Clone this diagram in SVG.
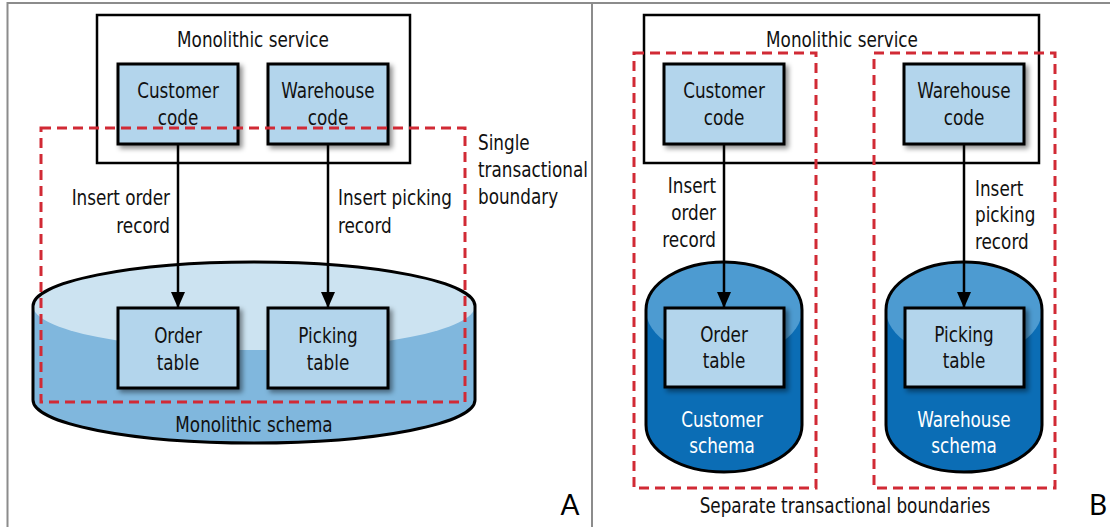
<svg xmlns="http://www.w3.org/2000/svg" width="1110" height="527" viewBox="0 0 1110 527">
  <defs>
    <filter id="shadow" x="-20%" y="-20%" width="150%" height="150%">
      <feDropShadow dx="3" dy="3" stdDeviation="2.5" flood-color="#000" flood-opacity="0.45"/>
    </filter>
    <marker id="arrow" viewBox="0 0 16 14" refX="16" refY="7" markerWidth="16" markerHeight="14" markerUnits="userSpaceOnUse" orient="auto">
      <path d="M0,0 L16,7 L0,14 Z" fill="#000"/>
    </marker>
  </defs>
  <style>
    .frame { fill: none; stroke: #8c8c8c; stroke-width: 2; }
    .service { fill: #fff; stroke: #000; stroke-width: 2.5; }
    .box { fill: #b3d5ec; stroke: #000; stroke-width: 3; filter: url(#shadow); }
    .boundary { fill: none; stroke: #d12a35; stroke-width: 3; stroke-dasharray: 10 6; }
    .edge { stroke: #000; stroke-width: 2.5; fill: none; }
    .outline { fill: none; stroke: #000; stroke-width: 3; }
    text { font-family: "DejaVu Sans Condensed", "DejaVu Sans", sans-serif; font-size: 22px; fill: #111; }
    .c { text-anchor: middle; }
    .r { text-anchor: end; }
    .w { fill: #ffffff; }
    .tag { font-family: Lato, "Liberation Sans", sans-serif; font-size: 28px; fill: #000; text-anchor: middle; }
  </style>

  <!-- panel frame -->
  <path class="frame" d="M7.5,527 V3 H1110 M592,3 V527"/>

  <!-- ===== Panel A: single database ===== -->
  <g id="a-service">
    <rect class="service" x="97" y="15" width="313" height="148"/>
    <text class="c" transform="translate(253,47) scale(0.85,1)">Monolithic service</text>
  </g>

  <g id="a-schema">
    <path d="M33,306 A221,44 0 0 1 475,306 L475,400 A221,43 0 0 1 33,400 Z" fill="#80b7dd"/>
    <ellipse cx="254" cy="306" rx="221" ry="44" fill="#cce3f1"/>
    <path class="outline" d="M33,306 A221,44 0 0 1 475,306 L475,400 A221,43 0 0 1 33,400 Z"/>
    <text class="c" transform="translate(254,432) scale(0.85,1)">Monolithic schema</text>
  </g>

  <g id="a-customer-code">
    <rect class="box" x="118" y="64" width="120" height="80"/>
    <text class="c" transform="translate(178,98) scale(0.85,1)">Customer</text>
    <text class="c" transform="translate(178,125) scale(0.85,1)">code</text>
  </g>
  <g id="a-warehouse-code">
    <rect class="box" x="268" y="64" width="120" height="80"/>
    <text class="c" transform="translate(328,98) scale(0.85,1)">Warehouse</text>
    <text class="c" transform="translate(328,125) scale(0.85,1)">code</text>
  </g>
  <g id="a-order-table">
    <rect class="box" x="118" y="308" width="120" height="80"/>
    <text class="c" transform="translate(178,343) scale(0.85,1)">Order</text>
    <text class="c" transform="translate(178,370) scale(0.85,1)">table</text>
  </g>
  <g id="a-picking-table">
    <rect class="box" x="268" y="308" width="120" height="80"/>
    <text class="c" transform="translate(328,343) scale(0.85,1)">Picking</text>
    <text class="c" transform="translate(328,370) scale(0.85,1)">table</text>
  </g>

  <g id="a-boundary">
    <rect class="boundary" x="41" y="128" width="424" height="274"/>
    <text transform="translate(478,150) scale(0.85,1)">Single</text>
    <text transform="translate(478,177) scale(0.85,1)">transactional</text>
    <text transform="translate(478,204) scale(0.85,1)">boundary</text>
  </g>

  <g id="a-connectors">
    <line class="edge" x1="178" y1="144" x2="178" y2="308" marker-end="url(#arrow)"/>
    <line class="edge" x1="328" y1="144" x2="328" y2="308" marker-end="url(#arrow)"/>
    <text class="r" transform="translate(170,205) scale(0.85,1)">Insert order</text>
    <text class="r" transform="translate(170,233) scale(0.85,1)">record</text>
    <text transform="translate(338,205) scale(0.85,1)">Insert picking</text>
    <text transform="translate(338,233) scale(0.85,1)">record</text>
  </g>

  <text class="tag" x="570" y="515">A</text>

  <!-- ===== Panel B: separate schemas ===== -->
  <g id="b-service">
    <rect class="service" x="644" y="15" width="395" height="148"/>
    <text class="c" transform="translate(842,47) scale(0.85,1)">Monolithic service</text>
  </g>

  <g id="b-customer-schema">
    <path d="M646,310 A78,48 0 0 1 802,310 L802,425 A78,47 0 0 1 646,425 Z" fill="#0b6db5"/>
    <ellipse cx="724" cy="310" rx="78" ry="48" fill="#4d9bd1"/>
    <path class="outline" d="M646,310 A78,48 0 0 1 802,310 L802,425 A78,47 0 0 1 646,425 Z"/>
    <text class="c w" transform="translate(722,427) scale(0.85,1)">Customer</text>
    <text class="c w" transform="translate(722,453) scale(0.85,1)">schema</text>
  </g>
  <g id="b-warehouse-schema">
    <path d="M886,310 A78,48 0 0 1 1042,310 L1042,425 A78,47 0 0 1 886,425 Z" fill="#0b6db5"/>
    <ellipse cx="964" cy="310" rx="78" ry="48" fill="#4d9bd1"/>
    <path class="outline" d="M886,310 A78,48 0 0 1 1042,310 L1042,425 A78,47 0 0 1 886,425 Z"/>
    <text class="c w" transform="translate(964,427) scale(0.85,1)">Warehouse</text>
    <text class="c w" transform="translate(964,453) scale(0.85,1)">schema</text>
  </g>

  <g id="b-customer-code">
    <rect class="box" x="664" y="64" width="120" height="80"/>
    <text class="c" transform="translate(724,98) scale(0.85,1)">Customer</text>
    <text class="c" transform="translate(724,125) scale(0.85,1)">code</text>
  </g>
  <g id="b-warehouse-code">
    <rect class="box" x="904" y="64" width="120" height="80"/>
    <text class="c" transform="translate(964,98) scale(0.85,1)">Warehouse</text>
    <text class="c" transform="translate(964,125) scale(0.85,1)">code</text>
  </g>
  <g id="b-order-table">
    <rect class="box" x="665" y="308" width="119" height="79"/>
    <text class="c" transform="translate(724,342) scale(0.85,1)">Order</text>
    <text class="c" transform="translate(724,368) scale(0.85,1)">table</text>
  </g>
  <g id="b-picking-table">
    <rect class="box" x="905" y="308" width="119" height="79"/>
    <text class="c" transform="translate(964,342) scale(0.85,1)">Picking</text>
    <text class="c" transform="translate(964,368) scale(0.85,1)">table</text>
  </g>

  <g id="b-boundaries">
    <rect class="boundary" x="634" y="53" width="182" height="435"/>
    <rect class="boundary" x="874" y="53" width="181" height="435"/>
    <text class="c" transform="translate(845,513) scale(0.85,1)">Separate transactional boundaries</text>
  </g>

  <g id="b-connectors">
    <line class="edge" x1="724" y1="144" x2="724" y2="308" marker-end="url(#arrow)"/>
    <line class="edge" x1="964" y1="144" x2="964" y2="308" marker-end="url(#arrow)"/>
    <text class="r" transform="translate(716,193) scale(0.85,1)">Insert</text>
    <text class="r" transform="translate(716,220) scale(0.85,1)">order</text>
    <text class="r" transform="translate(716,247) scale(0.85,1)">record</text>
    <text transform="translate(975,196) scale(0.85,1)">Insert</text>
    <text transform="translate(975,222) scale(0.85,1)">picking</text>
    <text transform="translate(975,249) scale(0.85,1)">record</text>
  </g>

  <text class="tag" x="1098" y="515">B</text>
</svg>
